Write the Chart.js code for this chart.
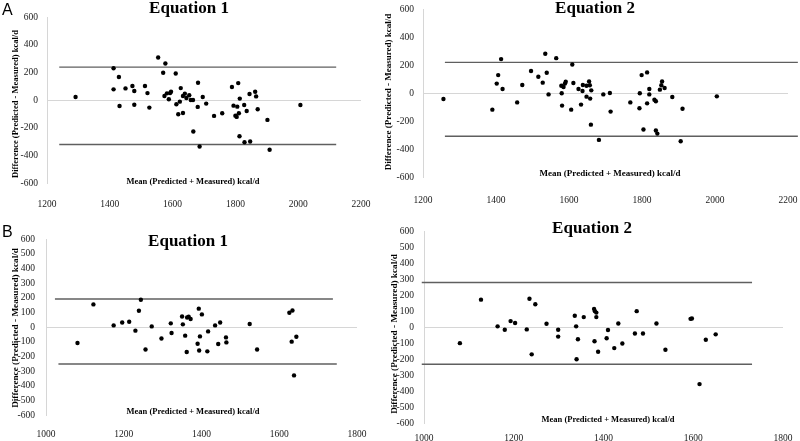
<!DOCTYPE html>
<html>
<head>
<meta charset="utf-8">
<script src="https://cdn.jsdelivr.net/npm/chart.js@4.4.1/dist/chart.umd.min.js"></script>
<style>
  body { margin: 0; background: #fff; }
  #wrap { position: relative; width: 800px; height: 441px; overflow: hidden; }
  canvas { position: absolute; }
</style>
</head>
<body>
<div id="wrap">
  <canvas id="a1" width="400" height="220" style="left:0;top:0"></canvas>
  <canvas id="a2" width="415" height="220" style="left:385px;top:0"></canvas>
  <canvas id="b1" width="400" height="221" style="left:0;top:220px"></canvas>
  <canvas id="b2" width="415" height="221" style="left:385px;top:220px"></canvas>
</div>
<script>
// A - Equation 1
var a1Mean = [1291,1412,1412,1429,1431,1450,1472,1478,1478,1512,1520,1526,1554,1577,1570,1574,1582,1588,1592,1595,
  1610,1612,1618,1623,1626,1633,1633,1639,1644,1653,1658,1665,1666,1680,1681,1686,1696,1707,1732,1758,
  1789,1794,1800,1804,1806,1809,1811,1813,1814,1828,1829,1836,1845,1847,1863,1866,1871,1902,1909,2007];
var a1Diff = [22,230,77,166,-43,84,101,65,-34,101,50,-55,307,264,197,29,48,5,50,60,
  192,-31,-103,-12,86,-94,29,46,14,34,0,0,-228,-50,125,-336,22,-26,-115,-96,
  94,-41,-113,-122,-48,122,-96,-262,10,-36,-305,-79,43,-300,60,26,-67,-144,-360,-36];
var a1Limits = [238, -322];
var a1LimitFrom = [1239, 1239];
var a1LimitTo = [2121, 2121];

// A - Equation 2
var a2Mean = [1256,1390,1402,1406,1414,1418,1458,1472,1496,1516,1528,1535,1539,1544,1565,1579,1580,1581,1585,1589,
  1591,1606,1609,1612,1626,1633,1637,1638,1648,1648,1655,1657,1658,1661,1660,1682,1694,1712,1714,1768,
  1793,1794,1799,1804,1814,1814,1820,1820,1834,1838,1838,1842,1849,1853,1855,1862,1883,1911,1906,2005];
var a2Diff = [-43,-119,67,128,242,29,-67,57,157,116,74,280,145,-10,249,52,-2,-90,43,67,
  81,-119,204,71,29,-83,14,57,-26,52,83,55,-40,19,-226,-335,-10,0,-133,-67,
  -109,-2,128,-261,-74,147,29,-10,-48,-59,-268,-290,24,55,83,36,-29,-112,-345,-24];
var a2Limits = [219, -309];
var a2LimitFrom = [1260, 1260];
var a2LimitTo = [2227, 2227];

// B - Equation 1
var b1Mean = [1081,1122,1174,1196,1214,1230,1239,1244,1256,1272,1297,1321,1323,1350,1352,1358,1363,1367,1372,1362,
  1390,1394,1393,1396,1401,1415,1417,1435,1443,1448,1463,1464,1524,1543,1626,1634,1632,1644,1638];
var b1Diff = [-109,154,11,31,36,-25,111,186,-153,4,-78,25,-41,72,18,-59,65,70,55,-170,
  -114,-160,125,-64,86,-166,-30,11,-116,31,-71,-105,20,-153,97,113,-100,-66,-330];
var b1Limits = [191, -252];
var b1LimitFrom = [1023, 1032];
var b1LimitTo = [1738, 1748];

// B - Equation 2
var b2Mean = [1080,1127,1164,1180,1193,1203,1229,1235,1240,1248,1273,1299,1299,1336,1339,1343,1340,1356,1379,1381,
  1384,1384,1380,1388,1410,1407,1424,1433,1442,1470,1474,1488,1518,1538,1594,1597,1614,1628,1650];
var b2Diff = [-101,171,4,-17,37,25,-15,177,-171,142,20,-17,-60,70,4,-77,-202,62,113,99,
  90,62,-89,-155,-19,-70,-132,22,-103,-41,99,-41,22,-142,51,53,-357,-80,-46];
var b2Limits = [278, -233];
var b2LimitFrom = [995, 995];
var b2LimitTo = [1731, 1731];

var yTitle = 'Difference (Predicted - Measured) kcal/d';
var xTitle = 'Mean (Predicted + Measured) kcal/d';

var SERIF = '"Liberation Serif", "Times New Roman", serif';

// draws the free-floating texts of each panel
var panelText = {
  id: 'panelText',
  afterDraw: function(chart, args, opts) {
    var ctx = chart.ctx;
    (opts.items || []).forEach(function(t) {
      ctx.save();
      ctx.font = t.font;
      ctx.fillStyle = '#000';
      ctx.textAlign = t.align || 'center';
      ctx.textBaseline = t.rotate ? 'middle' : 'alphabetic';
      ctx.translate(t.x, t.y);
      if (t.rotate) ctx.rotate(-Math.PI / 2);
      ctx.fillText(t.text, 0, 0);
      ctx.restore();
    });
  }
};

function plain(v) { return String(v); }

function makePanel(id, p) {
  var points = p.mean.map(function(m, i) { return { x: m, y: p.diff[i] }; });
  var datasets = [{
    type: 'scatter',
    data: points,
    backgroundColor: '#000',
    borderColor: '#000',
    pointRadius: 2.2,
    pointBorderWidth: 0
  }];
  p.limits.forEach(function(v, i) {
    datasets.push({
      type: 'line',
      data: [{ x: p.from[i], y: v }, { x: p.to[i], y: v }],
      borderColor: '#5f5f5f',
      borderWidth: 1.4,
      pointRadius: 0,
      clip: false
    });
  });

  new Chart(document.getElementById(id), {
    type: 'scatter',
    data: { datasets: datasets },
    plugins: [panelText],
    options: {
      responsive: false,
      animation: false,
      devicePixelRatio: 1,
      layout: { padding: p.padding },
      plugins: {
        legend: { display: false },
        tooltip: { enabled: false },
        panelText: { items: p.texts }
      },
      scales: {
        x: {
          type: 'linear',
          min: p.xMin, max: p.xMax,
          afterFit: function(s) { s.height = p.xHeight; s.paddingLeft = 0; s.paddingRight = 0; },
          grid: { display: false },
          border: { display: false },
          ticks: { stepSize: 200, padding: p.xPad, color: '#1a1a1a', callback: plain,
                   font: { family: SERIF, size: 9.5 } }
        },
        y: {
          min: -600, max: 600,
          afterFit: function(s) { s.width = p.yWidth; s.paddingTop = 0; s.paddingBottom = 0; },
          grid: {
            drawTicks: false,
            color: function(c) { return c.tick && c.tick.value === 0 ? '#d6d6d6' : 'rgba(0,0,0,0)'; }
          },
          border: { display: true, color: '#d6d6d6' },
          ticks: { stepSize: 100, padding: p.yPad, color: '#1a1a1a', callback: plain,
                   font: { family: SERIF, size: 9.5 } }
        }
      }
    }
  });
}

makePanel('a1', {
  mean: a1Mean, diff: a1Diff, limits: a1Limits, from: a1LimitFrom, to: a1LimitTo,
  xMin: 1200, xMax: 2200,
  padding: { left: 0, right: 39, top: 17, bottom: 0 },
  yWidth: 47, xHeight: 37, xPad: 8, yPad: 9,
  texts: [
    { text: 'A', x: 2, y: 15, align: 'left', font: '16px "Liberation Sans", Arial, sans-serif' },
    { text: 'Equation 1', x: 189, y: 13, font: 'bold 17px ' + SERIF },
    { text: yTitle, x: 16, y: 104, rotate: true, font: 'bold 8.5px ' + SERIF },
    { text: xTitle, x: 193, y: 184, font: 'bold 8.5px ' + SERIF }
  ]
});

makePanel('a2', {
  mean: a2Mean, diff: a2Diff, limits: a2Limits, from: a2LimitFrom, to: a2LimitTo,
  xMin: 1200, xMax: 2200,
  padding: { left: 0, right: 12, top: 9, bottom: 0 },
  yWidth: 38, xHeight: 43, xPad: 10, yPad: 9,
  texts: [
    { text: 'Equation 2', x: 210, y: 13, font: 'bold 17px ' + SERIF },
    { text: yTitle, x: 4, y: 92, rotate: true, font: 'bold 9px ' + SERIF },
    { text: xTitle, x: 225, y: 176, font: 'bold 9px ' + SERIF }
  ]
});

makePanel('b1', {
  mean: b1Mean, diff: b1Diff, limits: b1Limits, from: b1LimitFrom, to: b1LimitTo,
  xMin: 1000, xMax: 1800,
  padding: { left: 0, right: 43, top: 19, bottom: 0 },
  yWidth: 46, xHeight: 26, xPad: 6, yPad: 11,
  texts: [
    { text: 'B', x: 2, y: 17, align: 'left', font: '16px "Liberation Sans", Arial, sans-serif' },
    { text: 'Equation 1', x: 188, y: 26, font: 'bold 17px ' + SERIF },
    { text: yTitle, x: 16, y: 108, rotate: true, font: 'bold 9.2px ' + SERIF },
    { text: xTitle, x: 193, y: 194, font: 'bold 8.5px ' + SERIF }
  ]
});

makePanel('b2', {
  mean: b2Mean, diff: b2Diff, limits: b2Limits, from: b2LimitFrom, to: b2LimitTo,
  xMin: 1000, xMax: 1800,
  padding: { left: 0, right: 17, top: 11, bottom: 0 },
  yWidth: 39, xHeight: 18, xPad: 2, yPad: 10,
  texts: [
    { text: 'Equation 2', x: 207, y: 13, font: 'bold 17px ' + SERIF },
    { text: yTitle, x: 10, y: 114, rotate: true, font: 'bold 9.2px ' + SERIF },
    { text: xTitle, x: 223, y: 202, font: 'bold 8.5px ' + SERIF }
  ]
});
</script>
</body>
</html>
